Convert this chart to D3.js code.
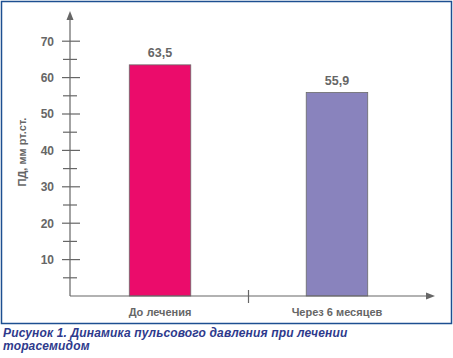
<!DOCTYPE html>
<html><head><meta charset="utf-8">
<script src="https://cdn.jsdelivr.net/npm/d3@7"></script>
<style>body{margin:0;background:#fff}svg{display:block}</style>
</head><body>
<script>
const categories = ["До лечения", "Через 6 месяцев"];
const values = [63.5, 55.9];
const valueLabels = ["63,5", "55,9"];
const colors = ["#EB0C6B", "#8983BD"];
const majorTicks = [10, 20, 30, 40, 50, 60, 70];
const minorTicks = [5, 15, 25, 35, 45, 55, 65];
const yTitle = "ПД, мм рт.ст.";
const caption = ["Рисунок 1. Динамика пульсового давления при лечении", "торасемидом"];

const W = 453, H = 358;
const svg = d3.select("body").append("svg").attr("width", W).attr("height", H);
const font = "'Liberation Sans', Arial, sans-serif";
const gray = "#666";

// frame
svg.append("rect").attr("x", 1.5).attr("y", 1.5).attr("width", 450).attr("height", 322)
  .attr("fill", "#fff").attr("stroke", "#1D4F91").attr("stroke-width", 1.5);

const x0 = 70, x1 = 435, yBase = 296, yTop = 11;
const y = d3.scaleLinear().domain([0, 10]).range([yBase, yBase - 36.4]);
const x = d3.scaleBand().domain(categories).range([x0, 427]).paddingInner(0.6525).paddingOuter(0.335);

// bars
svg.selectAll("rect.bar").data(values).enter().append("rect").attr("class", "bar")
  .attr("x", (d, i) => x(categories[i]))
  .attr("width", x.bandwidth())
  .attr("y", d => y(d))
  .attr("height", d => y(0) - y(d))
  .attr("fill", (d, i) => colors[i])
  .attr("stroke", "#6a6a6a").attr("stroke-width", 0.8);

svg.selectAll("text.val").data(values).enter().append("text")
  .attr("x", (d, i) => x(categories[i]) + x.bandwidth() / 2)
  .attr("y", d => y(d) - 8)
  .attr("text-anchor", "middle").attr("font-family", font).attr("font-weight", "bold")
  .attr("font-size", 12.5).attr("fill", gray)
  .text((d, i) => valueLabels[i]);

// axes
const ax = svg.append("g").attr("stroke", gray).attr("stroke-width", 1.2);
ax.append("line").attr("x1", x0).attr("x2", x0).attr("y1", yBase).attr("y2", yTop + 5);
ax.append("line").attr("x1", x0).attr("x2", x1 - 5).attr("y1", yBase).attr("y2", yBase);
svg.append("path").attr("d", `M${x0},${yTop} L${x0 - 3.5},${yTop + 9} L${x0 + 3.5},${yTop + 9} Z`).attr("fill", gray);
svg.append("path").attr("d", `M${x1},${yBase} L${x1 - 9},${yBase - 3.5} L${x1 - 9},${yBase + 3.5} Z`).attr("fill", gray);

ax.selectAll("line.maj").data(majorTicks).enter().append("line")
  .attr("x1", x0 - 8).attr("x2", x0 + 10).attr("y1", d => y(d)).attr("y2", d => y(d));
ax.selectAll("line.min").data(minorTicks).enter().append("line")
  .attr("x1", x0 - 7).attr("x2", x0 + 7).attr("y1", d => y(d)).attr("y2", d => y(d));
// middle x tick
ax.append("line").attr("x1", 248.5).attr("x2", 248.5).attr("y1", yBase - 6).attr("y2", yBase + 7);

svg.selectAll("text.tick").data(majorTicks).enter().append("text")
  .attr("x", 54).attr("y", d => y(d)).attr("dy", "0.36em")
  .attr("text-anchor", "end").attr("font-family", font).attr("font-weight", "bold")
  .attr("font-size", 12).attr("fill", gray).text(d => d);

svg.selectAll("text.cat").data(categories).enter().append("text")
  .attr("x", d => x(d) + x.bandwidth() / 2).attr("y", 312).attr("dy", "0.36em")
  .attr("text-anchor", "middle").attr("font-family", font).attr("font-weight", "bold")
  .attr("font-size", 11).attr("fill", gray).text(d => d);

svg.append("text").attr("transform", "translate(26,152) rotate(-90)")
  .attr("text-anchor", "middle").attr("font-family", font).attr("font-weight", "bold")
  .attr("font-size", 11).attr("fill", gray).text(yTitle);

svg.selectAll("text.cap").data(caption).enter().append("text")
  .attr("x", 3).attr("y", (d, i) => 337 + i * 13)
  .attr("font-family", font).attr("font-weight", "bold").attr("font-style", "italic")
  .attr("letter-spacing", 0.15)
  .attr("font-size", 12).attr("fill", "#2E3A8C").text(d => d);
</script>
</body></html>
